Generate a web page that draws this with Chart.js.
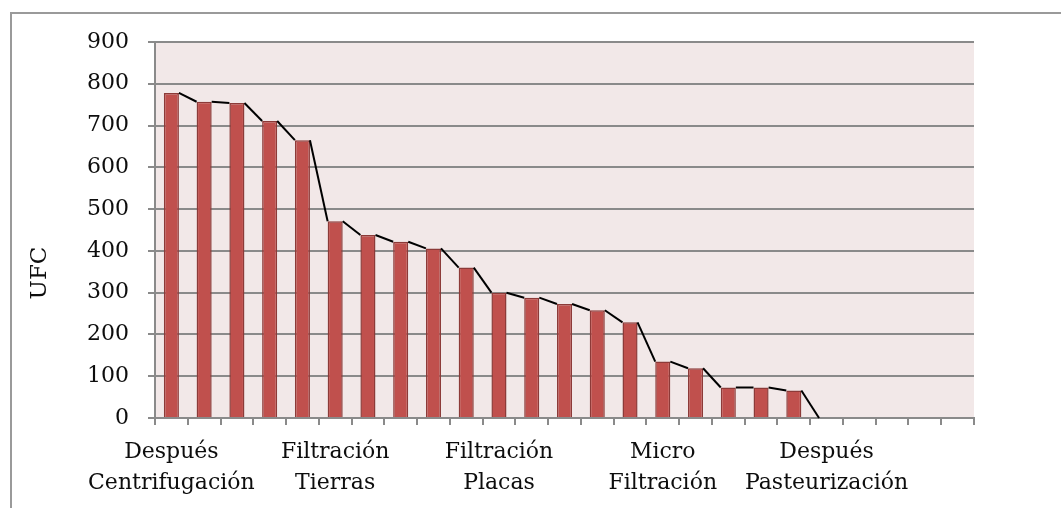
<!DOCTYPE html>
<html>
<head>
<meta charset="utf-8">
<script src="https://cdn.jsdelivr.net/npm/chart.js@4/dist/chart.umd.min.js"></script>
<style>
  html, body { margin: 0; padding: 0; background: #ffffff; }
  #wrap { width: 1061px; height: 508px; position: relative; }
</style>
</head>
<body>
<div id="wrap"><canvas id="c" width="1061" height="508"></canvas></div>
<script>
// Process stages shown under the axis (one every five samples)
const stageLabels = [
  ['Después', 'Centrifugación'],
  ['Filtración', 'Tierras'],
  ['Filtración', 'Placas'],
  ['Micro', 'Filtración'],
  ['Después', 'Pasteurización']
];
const stageEvery = 5;
const sampleCount = 25;

// Colony-forming units per sample
const ufc = [778, 757, 754, 711, 665, 471, 438, 422, 406, 360, 300, 288, 273, 258, 229,
             135, 119, 73, 73, 66, 0, null, null, null, null];

const yTicks = [0, 100, 200, 300, 400, 500, 600, 700, 800, 900];
const yTitle = 'UFC';

const categories = [];
for (let i = 0; i < sampleCount; i++) {
  categories.push(i % stageEvery === 0 && stageLabels[i / stageEvery] ? stageLabels[i / stageEvery] : '');
}

const FONT = 'DejaVu Serif';
const TEXT = '#0d0d0d';
const GRID = '#8a8a8a';

// Plot background and outer frame
const framePlugin = {
  id: 'frame',
  beforeDraw(chart) {
    const { ctx, chartArea: a } = chart;
    ctx.save();
    ctx.fillStyle = '#ffffff';
    ctx.fillRect(0, 0, chart.width, chart.height);
    ctx.fillStyle = '#f2e8e8';
    ctx.fillRect(a.left, a.top, a.right - a.left, a.bottom - a.top);
    ctx.strokeStyle = '#9a9a9a';
    ctx.lineWidth = 2;
    ctx.strokeRect(11, 13, chart.width + 20, chart.height + 20);
    ctx.restore();
  }
};

// Trend line joining the top corners of consecutive bars
const trendPlugin = {
  id: 'trend',
  afterDatasetsDraw(chart) {
    const meta = chart.getDatasetMeta(0);
    const data = chart.data.datasets[0].data;
    const { ctx } = chart;
    ctx.save();
    ctx.strokeStyle = '#000000';
    ctx.lineWidth = 2;
    ctx.lineJoin = 'round';
    for (let i = 0; i < data.length - 1; i++) {
      if (data[i] == null || data[i + 1] == null) continue;
      const a = meta.data[i], b = meta.data[i + 1];
      ctx.beginPath();
      ctx.moveTo(a.x + a.width / 2, a.y);
      ctx.lineTo(b.x - b.width / 2, b.y);
      ctx.stroke();
    }
    ctx.restore();
  }
};

// Rotated axis title
const titlePlugin = {
  id: 'ytitle',
  afterDraw(chart) {
    const { ctx } = chart;
    ctx.save();
    ctx.translate(40, 273);
    ctx.rotate(-Math.PI / 2);
    ctx.font = '23px "' + FONT + '"';
    ctx.fillStyle = TEXT;
    ctx.textAlign = 'center';
    ctx.textBaseline = 'middle';
    ctx.fillText(yTitle, 0, 0);
    ctx.restore();
  }
};

new Chart(document.getElementById('c'), {
  type: 'bar',
  data: {
    labels: categories,
    datasets: [{
      data: ufc,
      backgroundColor: '#c0504d',
      borderColor: '#8c3a38',
      borderWidth: 1.5,
      categoryPercentage: 1,
      barPercentage: 0.46
    }]
  },
  options: {
    responsive: false,
    animation: false,
    events: [],
    layout: { padding: { left: 10, top: 42, right: 87, bottom: 0 } },
    plugins: { legend: { display: false }, tooltip: { enabled: false } },
    scales: {
      x: {
        grid: { offset: true, drawOnChartArea: false, drawTicks: true, tickLength: 7, color: GRID, lineWidth: 2 },
        border: { color: GRID, width: 2 },
        ticks: {
          autoSkip: false, maxRotation: 0, minRotation: 0, padding: 12,
          color: TEXT,
          font: { family: FONT, size: 22, lineHeight: 1.4 }
        },
        afterFit(s) { s.height = 90; }
      },
      y: {
        min: 0, max: 900,
        afterBuildTicks(s) { s.ticks = yTicks.map(v => ({ value: v })); },
        grid: { color: GRID, lineWidth: 2, tickLength: 7 },
        border: { color: GRID, width: 2 },
        ticks: {
          padding: 19,
          color: TEXT,
          font: { family: FONT, size: 22 }
        },
        afterFit(s) { s.width = 145; }
      }
    }
  },
  plugins: [framePlugin, trendPlugin, titlePlugin]
});
</script>
</body>
</html>
